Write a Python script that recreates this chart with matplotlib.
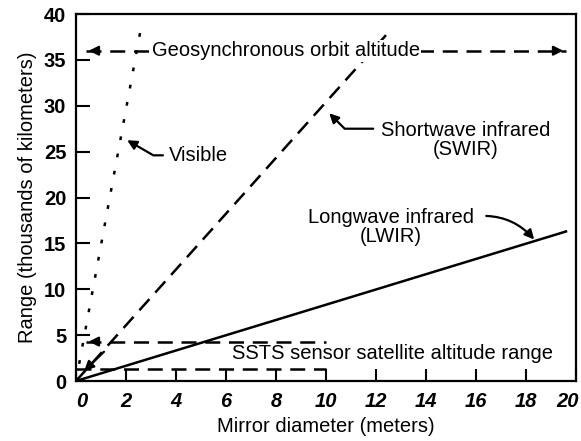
import matplotlib.pyplot as plt
from matplotlib.transforms import ScaledTranslation

plt.rcParams['font.family'] = ['Liberation Sans', 'DejaVu Sans']

# data
visible_x = [0, 2.6]
visible_y = [0, 38.5]
swir_x = [0, 12.4]
swir_y = [0, 37.7]
lwir_x = [0, 19.6]
lwir_y = [0, 16.3]

geo_altitude = 36
geo_span = [0.4, 19.6]
ssts_high = 4.3
ssts_low = 1.3
ssts_span = [0.4, 10]

x_ticks = [0, 2, 4, 6, 8, 10, 12, 14, 16, 18, 20]
y_ticks = [0, 5, 10, 15, 20, 25, 30, 35, 40]

fig = plt.figure(figsize=(5.81, 4.41), dpi=100)
ax = fig.add_axes([0.1308, 0.136, 0.8606, 0.8322])

fs = 14.5
dash = (0, (6, 3.5))
dot = (0, (1.5, 5.5))
arrow = dict(arrowstyle='-|>', color='black', lw=1.6, mutation_scale=14)

ax.plot(visible_x, visible_y, color='black', lw=1.8, linestyle=dot)
ax.plot(swir_x, swir_y, color='black', lw=1.8, linestyle=dash)
ax.plot(lwir_x, lwir_y, color='black', lw=1.8)

# geosynchronous line with arrows at both ends
ax.plot(geo_span, [geo_altitude, geo_altitude], color='black', lw=1.8, linestyle=dash)
ax.annotate('', xy=(geo_span[1], geo_altitude), xytext=(geo_span[1] - 0.6, geo_altitude), arrowprops=arrow)
ax.annotate('', xy=(geo_span[0], geo_altitude), xytext=(geo_span[0] + 0.6, geo_altitude), arrowprops=arrow)
ax.text(8.4, geo_altitude, 'Geosynchronous orbit altitude', ha='center', va='center', fontsize=fs,
        bbox=dict(facecolor='white', edgecolor='none', pad=1))

# SSTS band
ax.plot(ssts_span, [ssts_high, ssts_high], color='black', lw=1.8, linestyle=dash)
ax.plot([0, ssts_span[1]], [ssts_low, ssts_low], color='black', lw=1.8, linestyle=dash)
ax.annotate('', xy=(ssts_span[0], ssts_high), xytext=(ssts_span[0] + 0.6, ssts_high), arrowprops=arrow)
ax.annotate('', xy=(0.25, 0.9), xytext=(1.2, 3.4), arrowprops=arrow)
ax.text(12.65, 3.0, 'SSTS sensor satellite altitude range', ha='center', va='center', fontsize=fs)

# labels with arrows
ax.annotate('Visible', xy=(1.95, 26.4), xytext=(3.7, 24.6), ha='left', va='center', fontsize=fs,
            arrowprops=dict(arrowstyle='-|>', color='black', lw=1.6, mutation_scale=14,
                            connectionstyle='angle,angleA=180,angleB=-30,rad=0'))
ax.text(15.6, 26.3, 'Shortwave infrared\n(SWIR)', ha='center', va='center', fontsize=fs, linespacing=1.0)
ax.annotate('', xy=(10.05, 29.4), xytext=(12.0, 27.5),
            arrowprops=dict(arrowstyle='-|>', color='black', lw=1.6, mutation_scale=14,
                            connectionstyle='angle,angleA=180,angleB=135,rad=0'))
ax.text(12.6, 16.8, 'Longwave infrared\n(LWIR)', ha='center', va='center', fontsize=fs, linespacing=1.0)
ax.annotate('', xy=(18.4, 15.2), xytext=(16.3, 18.0),
            arrowprops=dict(arrowstyle='-|>', color='black', lw=1.6, mutation_scale=14,
                            connectionstyle='angle3,angleA=0,angleB=-50'))

ax.set_xlim(0, 20)
ax.set_ylim(0, 40)
ax.set_xticks(x_ticks)
ax.set_yticks(y_ticks)
ax.set_xticklabels([str(t) for t in x_ticks], fontsize=fs, fontweight='bold', fontstyle='italic')
ax.set_yticklabels([str(t) for t in y_ticks], fontsize=fs, fontweight='bold')
ax.tick_params(axis='x', direction='in', length=9, width=1.5, pad=8)
ax.tick_params(axis='y', direction='in', length=10, width=1.5, pad=7)
for s in ax.spines.values():
    s.set_linewidth(1.6)

# nudge the end labels like the original
xl = ax.get_xticklabels()
xl[0].set_transform(xl[0].get_transform() + ScaledTranslation(6 / 100, 0, fig.dpi_scale_trans))
xl[-1].set_transform(xl[-1].get_transform() + ScaledTranslation(-8 / 100, 0, fig.dpi_scale_trans))

ax.set_xlabel('Mirror diameter (meters)', fontsize=fs, labelpad=4)
ax.set_ylabel('Range (thousands of kilometers)', fontsize=fs, labelpad=5)

fig.savefig('out.png', dpi=100)
